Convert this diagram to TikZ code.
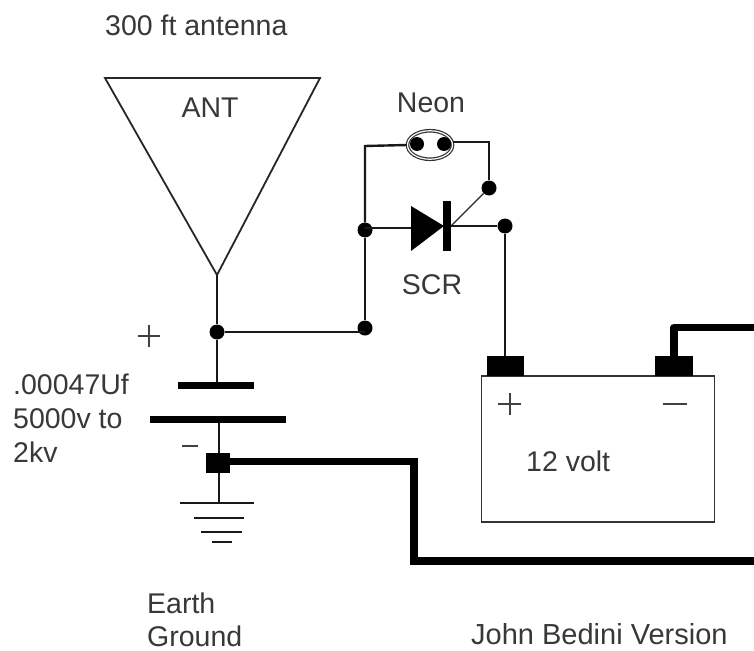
\documentclass[tikz,border=0pt]{standalone}
\usepackage{fontspec}
\usetikzlibrary{shapes.geometric}
\setmainfont{Liberation Sans}
\tikzset{
 x=1pt,y=-1pt,
 wire/.style={line width=2.4pt,black!90},
 thin wire/.style={line width=1.8pt,black!85},
 heavy/.style={line width=7.5pt,black},
 dot/.style={circle,fill=black,inner sep=0pt,minimum size=15pt},
 block/.style={fill=black,draw=none,inner sep=0pt},
 lbl/.style={inner sep=0pt,text=black!78,font=\fontsize{28.5}{34}\selectfont,align=left},
 sign/.style={line width=1.8pt,black!75},
}
\begin{document}
\begin{tikzpicture}
\useasboundingbox (0,0) rectangle (754,650);
\fill[white] (0,0) rectangle (754,650);
% labels
\node[lbl,anchor=west] (t300) at (105,25) {300 ft antenna};
\node[lbl,anchor=center] (tant) at (210,108) {ANT};
\node[lbl,anchor=center] (tneon) at (431,103) {Neon};
\node[lbl,anchor=center] (tscr) at (432,285) {SCR};
\node[lbl,anchor=west] (tcap) at (13,418) {.00047Uf\\5000v to\\2kv};
\node[lbl,anchor=west] (t12) at (526,461) {12 volt};
\node[lbl,anchor=west,font=\fontsize{28.5}{33}\selectfont] (tearth) at (147,619.5) {Earth\\Ground};
\node[lbl,anchor=west,font=\fontsize{29}{34}\selectfont] (tjb) at (471,634) {John Bedini Version};
% antenna
\coordinate (antL) at (105,78);
\coordinate (antR) at (320,78);
\coordinate (antT) at (217,275);
\draw[thin wire,line join=miter] (antL) -- (antR) -- (antT) -- cycle;
% junctions
\node[dot] (j1) at (217,332) {};
\node[dot] (j2) at (365,328) {};
\node[dot] (j3) at (365,230) {};
\node[dot] (j4) at (489,188) {};
\node[dot] (j5) at (505,226) {};
% neon
\node[draw=black!80,line width=1.2pt,ellipse,minimum width=45pt,minimum height=28.5pt,inner sep=0pt,double=white,double distance=1.2pt] (neon) at (430,145) {};
\node[dot,minimum size=14pt] (nl) at (417,144) {};
\node[dot,minimum size=14pt] (nr) at (444,144) {};
% SCR
\coordinate (scrA) at (411,228);
\coordinate (scrK) at (451,226);
\fill[black] (411,206) -- (444,226) -- (411,251) -- cycle;
\node[block,minimum width=8pt,minimum height=50pt] (scrbar) at (446.5,226) {};
% capacitor
\node[block,minimum width=76pt,minimum height=7.5pt] (capT) at (216,385.5) {};
\node[block,minimum width=136pt,minimum height=7.5pt] (capB) at (218,419.5) {};
\node[block,minimum width=24pt,minimum height=20pt] (sq) at (218,463) {};
% ground
\coordinate (g0) at (219,503);
\draw[wire] (180,503) -- (254,503);
\draw[wire] (194,518) -- (244,518);
\draw[wire] (201,532) -- (242,532);
\draw[wire] (212,542) -- (232,542);
% battery
\node[draw=black!80,line width=1.8pt,minimum width=233pt,minimum height=146pt,inner sep=0pt] (bat) at (598,449) {};
\node[block,minimum width=37pt,minimum height=20.5pt] (tp) at (505.5,366) {};
\node[block,minimum width=38pt,minimum height=20.5pt] (tm) at (674,366) {};
% wires
\draw[wire] (antT) -- (j1);
\draw[wire] (j1) -- (j1-|j2);
\draw[wire] (j1) -- (j1|-capT.north);
\draw[wire] (j2) -- (j3);
\draw[wire] (j3) -- (365,146) -- (neon.west);
\draw[wire] (neon.east) ++(0,-3) -- (489,142) -- (j4);
\draw[line width=1.2pt,black!85] (j4) -- (scrK);
\draw[wire] (j3.center) ++(0,-2) -- (scrA);
\draw[wire] (scrK) -- (j5);
\draw[wire] (j5) -- (j5|-tp.north);
\draw[wire] (219,423) -- (219,453);
\draw[wire] (219,473) -- (g0);
\coordinate (e1) at (754,327.5);
\coordinate (e2) at (754,561);
\draw[heavy,line join=round] (tm.north) -- (tm.north|-e1) -- (e1);
\draw[heavy,line join=miter] (sq.east) ++(0,-1.5) -- (414,461.5) -- (414,561) -- (e2);
% signs
\draw[sign] (138,336) -- (160,336) (149,325) -- (149,347);
\draw[sign] (182,446) -- (198,446);
\draw[sign] (498,404) -- (521,404) (510,393) -- (510,415);
\draw[sign] (663,404) -- (687,404);
\end{tikzpicture}
\end{document}
